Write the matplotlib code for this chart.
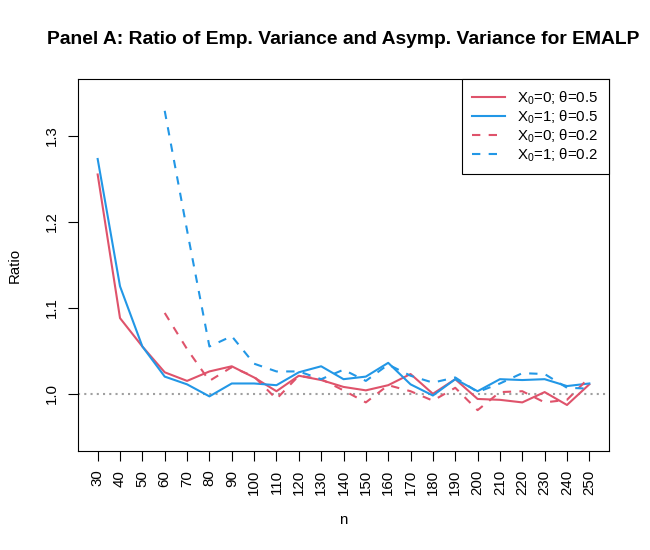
# %% IMPORTS
import matplotlib
matplotlib.use("Agg")
import matplotlib.pyplot as plt

# %% DATA
n_all = [30, 40, 50, 60, 70, 80, 90, 100, 110, 120, 130, 140,
         150, 160, 170, 180, 190, 200, 210, 220, 230, 240, 250]
n_short = n_all[3:]

# theta = 0.5
ratio_x0_t05 = [1.255, 1.088, 1.055, 1.025, 1.015, 1.026, 1.032, 1.019, 1.003,
                1.021, 1.016, 1.008, 1.004, 1.010, 1.023, 1.000, 1.017, 0.994,
                0.993, 0.990, 1.002, 0.987, 1.011]
ratio_x1_t05 = [1.273, 1.125, 1.055, 1.020, 1.011, 0.997, 1.012, 1.012, 1.010,
                1.025, 1.032, 1.017, 1.020, 1.036, 1.011, 0.998, 1.017, 1.003,
                1.017, 1.016, 1.017, 1.009, 1.012]

# theta = 0.2 (starts at n = 60)
ratio_x0_t02 = [1.094, 1.052, 1.015, 1.031, 1.020, 0.994, 1.021, 1.017, 1.004,
                0.990, 1.010, 1.003, 0.992, 1.007, 0.981, 1.002, 1.003, 0.990,
                0.993, 1.019]
ratio_x1_t02 = [1.329, 1.190, 1.055, 1.067, 1.035, 1.026, 1.026, 1.017, 1.028,
                1.015, 1.034, 1.021, 1.013, 1.019, 1.002, 1.012, 1.024, 1.023,
                1.007, 1.006]

y_ticks = [1.0, 1.1, 1.2, 1.3]

# %% STYLE
plt.rcParams["font.family"] = ["Liberation Sans", "DejaVu Sans"]
plt.rcParams["mathtext.fontset"] = "custom"
plt.rcParams["mathtext.rm"] = "Liberation Sans"
plt.rcParams["mathtext.it"] = "Liberation Sans:italic"

red = "#DF536B"
blue = "#2297E6"
dash = (0, (4, 4))
fs = 10.8

# %% PLOT
fig = plt.figure(figsize=(6.5, 5.5), dpi=100)
ax = fig.add_axes([78 / 650, 1 - 451 / 550, 531 / 650, 372 / 550])

ax.axhline(1.0, color="#A0A0A0", linewidth=1.5, linestyle=(0, (1, 2)), zorder=1)

ax.plot(n_all, ratio_x0_t05, color=red, linewidth=1.5, label=r"X$_0$=0; θ=0.5")
ax.plot(n_all, ratio_x1_t05, color=blue, linewidth=1.5, label=r"X$_0$=1; θ=0.5")
ax.plot(n_short, ratio_x0_t02, color=red, linewidth=1.5, linestyle=dash,
        label=r"X$_0$=0; θ=0.2")
ax.plot(n_short, ratio_x1_t02, color=blue, linewidth=1.5, linestyle=dash,
        label=r"X$_0$=1; θ=0.2")

# R-like axis ranges (4% padding)
ax.set_xlim(30 - 0.04 * 220, 250 + 0.04 * 220)
ax.set_ylim(0.9335, 1.3660)

ax.set_xticks(n_all)
ax.set_xticklabels([str(v) for v in n_all], rotation=90, fontsize=fs)
ax.set_yticks(y_ticks)
ax.set_yticklabels([f"{v:.1f}" for v in y_ticks], fontsize=fs)
for lab in ax.get_yticklabels():
    lab.set_rotation(90)
    lab.set_va("center")
ax.tick_params(length=7, width=0.8, pad=6.5)

for sp in ax.spines.values():
    sp.set_linewidth(0.8)

ax.set_xlabel("n", fontsize=fs)
ax.xaxis.set_label_coords(0.5, -(520 - 451) / 372)
ax.xaxis.label.set_va("center")
ax.set_ylabel("Ratio", fontsize=fs)
ax.yaxis.set_label_coords(-(78 - 15) / 531, 0.5)
ax.yaxis.label.set_va("center")

ax.text(0.5, 1 + (79 - 40) / 372, "Panel A: Ratio of Emp. Variance and Asymp. Variance for EMALP",
        transform=ax.transAxes, ha="center", va="center", fontsize=13.9,
        fontweight="bold")

leg = ax.legend(loc="upper right", borderaxespad=0, fontsize=fs, fancybox=False,
                framealpha=1, edgecolor="black", handlelength=2.2,
                handletextpad=0.8, labelspacing=0.1, borderpad=0.7)
leg.get_frame().set_linewidth(0.8)

fig.savefig("out.png", dpi=100)
